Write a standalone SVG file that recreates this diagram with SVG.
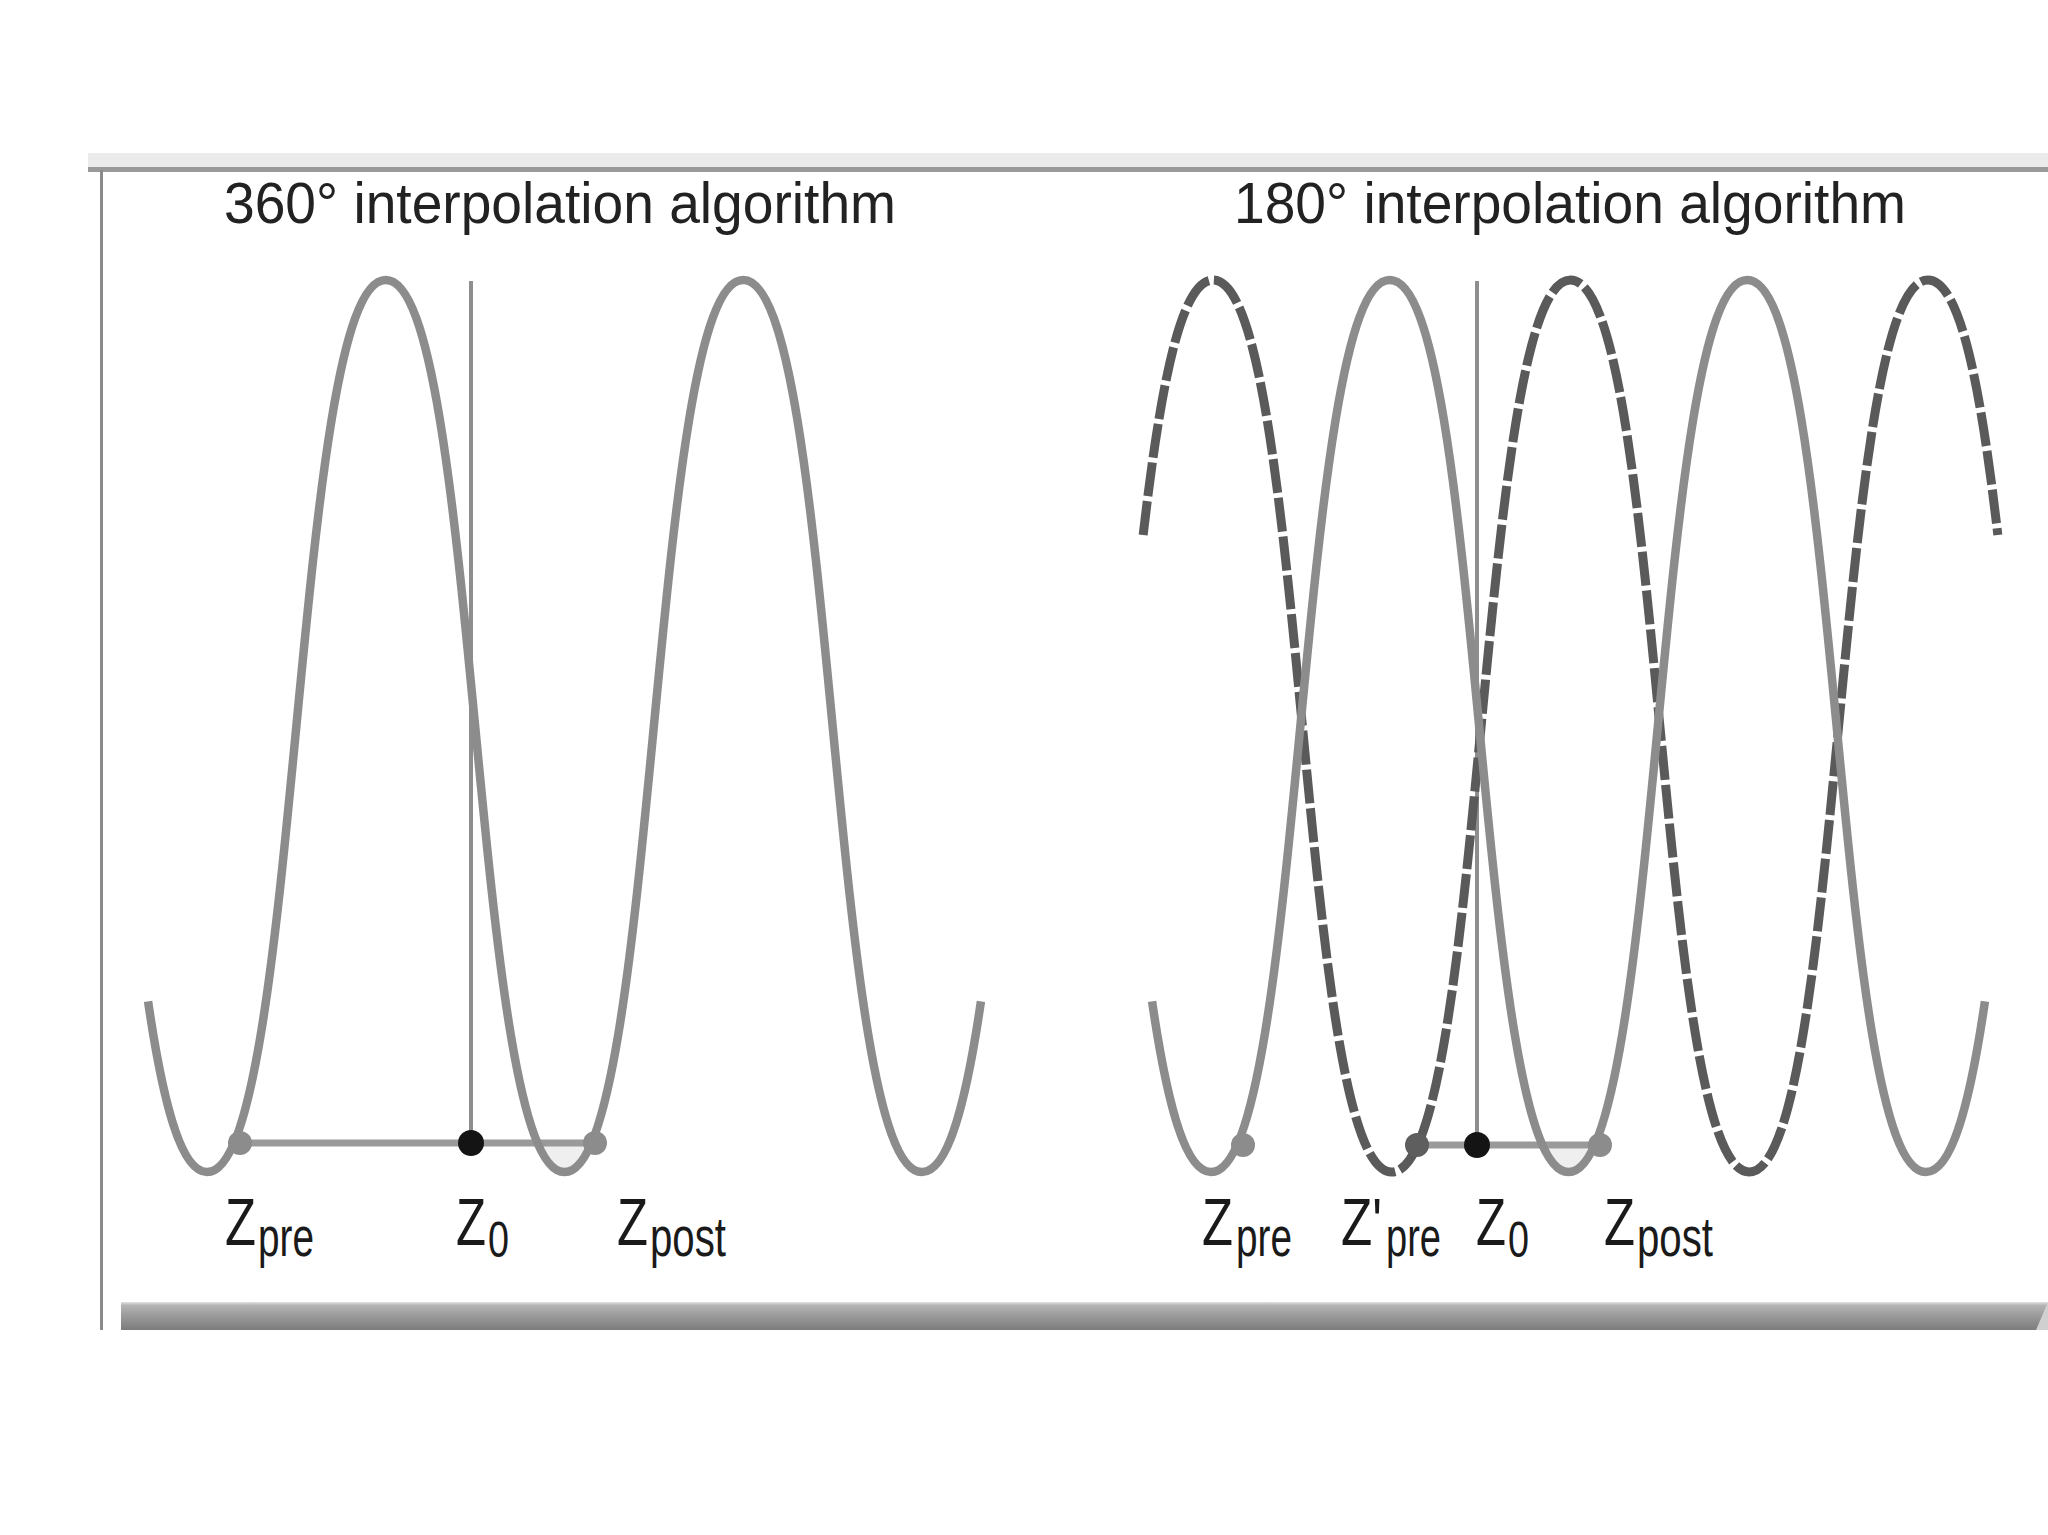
<svg xmlns="http://www.w3.org/2000/svg" width="2048" height="1535" viewBox="0 0 2048 1535">
<defs>
<linearGradient id="barGrad" x1="0" y1="0" x2="0" y2="1">
<stop offset="0" stop-color="#e2e2e2"/>
<stop offset="0.12" stop-color="#b4b4b4"/>
<stop offset="0.5" stop-color="#9a9a9a"/>
<stop offset="1" stop-color="#7c7c7c"/>
</linearGradient>
<style>
.title{font-family:"Liberation Sans",Arial,sans-serif;font-size:57px;fill:#222}
.lbl{font-family:"Liberation Sans",Arial,sans-serif;fill:#1a1a1a}
.zz{font-size:67px}
.sub{font-size:56px}
.sub0{font-size:50px}
.solid{fill:none;stroke:#8c8c8c;stroke-width:8.5}
.dashed{fill:none;stroke:#5a5a5a;stroke-width:9;stroke-dasharray:34 5}
.hline{stroke:#9a9a9a;stroke-width:7}
.vline{stroke:#8e8e8e;stroke-width:4}
.gdot{fill:#8c8c8c}
.ddot{fill:#5e5e5e}
.bdot{fill:#141414}
.fillv{fill:#efefef}
</style>
</defs>
<rect width="2048" height="1535" fill="#ffffff"/>
<g id="frame">
<rect x="88" y="153" width="1960" height="15" fill="#ebebeb"/>
<rect x="88" y="167" width="1960" height="5" fill="#9a9a9a"/>
<rect x="100" y="170" width="3" height="1160" fill="#8a8a8a"/>
<rect x="121" y="1302" width="1927" height="28" fill="url(#barGrad)"/>
<polygon points="2036,1330 2048,1302 2048,1330" fill="#d0d0d0"/>
</g>
<g id="titles">
<text id="title-360" class="title" x="224" y="223" textLength="672" lengthAdjust="spacingAndGlyphs">360° interpolation algorithm</text>
<text id="title-180" class="title" x="1234" y="223" textLength="672" lengthAdjust="spacingAndGlyphs">180° interpolation algorithm</text>
</g>
<g id="fills">
<path class="fillv" d="M536 1143 Q565 1196 593 1143 Z"/>
<path class="fillv" d="M1542 1145 Q1571 1198 1599 1145 Z"/>
</g>
<g id="connectors">
<line class="vline" x1="471" y1="281" x2="471" y2="1143"/>
<line class="hline" x1="240" y1="1143" x2="595" y2="1143"/>
<line class="vline" x1="1477" y1="281" x2="1477" y2="1145"/>
<line class="hline" x1="1417" y1="1145" x2="1600" y2="1145"/>
</g>
<g id="curves">
<path id="curve-360" class="solid" d="M148.07 1001.4 C162.79 1102.07 180.97 1172 207 1172 C299.95 1172 292.8 280 385.75 280 C478.7 280 471.55 1172 564.5 1172 C657.45 1172 650.3 280 743.25 280 C836.2 280 829.05 1172 922 1172 C948.03 1172 966.21 1102.07 980.93 1001.4"/>
<path id="curve-180-dashed" class="dashed" d="M1143.16 535 C1159.84 391.1 1180.18 280 1213 280 C1305.95 280 1298.8 1172 1391.75 1172 C1484.7 1172 1477.55 280 1570.5 280 C1663.45 280 1656.3 1172 1749.25 1172 C1842.2 1172 1835.05 280 1928 280 C1960.82 280 1981.16 391.1 1997.84 535"/>
<path id="curve-180-solid" class="solid" d="M1152.07 1001.4 C1166.79 1102.07 1184.97 1172 1211 1172 C1303.95 1172 1296.8 280 1389.75 280 C1482.7 280 1475.55 1172 1568.5 1172 C1661.45 1172 1654.3 280 1747.25 280 C1840.2 280 1833.05 1172 1926 1172 C1952.03 1172 1970.21 1102.07 1984.93 1001.4"/>
</g>
<g id="node-left-zpre">
<circle class="gdot" cx="240" cy="1143" r="12"/>
<text class="lbl" x="225" y="1245"><tspan class="zz" textLength="31" lengthAdjust="spacingAndGlyphs">Z</tspan><tspan class="sub" x="258" y="1256" textLength="56" lengthAdjust="spacingAndGlyphs">pre</tspan></text>
</g>
<g id="node-left-z0">
<circle class="bdot" cx="471" cy="1143" r="13"/>
<text class="lbl" x="456" y="1245"><tspan class="zz" textLength="30" lengthAdjust="spacingAndGlyphs">Z</tspan><tspan class="sub0" x="488" y="1257" textLength="21" lengthAdjust="spacingAndGlyphs">0</tspan></text>
</g>
<g id="node-left-zpost">
<circle class="gdot" cx="595" cy="1143" r="12"/>
<text class="lbl" x="617" y="1245"><tspan class="zz" textLength="31" lengthAdjust="spacingAndGlyphs">Z</tspan><tspan class="sub" x="650" y="1256" textLength="76" lengthAdjust="spacingAndGlyphs">post</tspan></text>
</g>
<g id="node-right-zpre">
<circle class="gdot" cx="1243" cy="1145" r="12"/>
<text class="lbl" x="1202" y="1245"><tspan class="zz" textLength="31" lengthAdjust="spacingAndGlyphs">Z</tspan><tspan class="sub" x="1236" y="1256" textLength="56" lengthAdjust="spacingAndGlyphs">pre</tspan></text>
</g>
<g id="node-right-zpre-prime">
<circle class="ddot" cx="1417" cy="1145" r="12"/>
<text class="lbl" x="1341" y="1245"><tspan class="zz" textLength="41" lengthAdjust="spacingAndGlyphs">Z'</tspan><tspan class="sub" x="1386" y="1256" textLength="55" lengthAdjust="spacingAndGlyphs">pre</tspan></text>
</g>
<g id="node-right-z0">
<circle class="bdot" cx="1477" cy="1145" r="13"/>
<text class="lbl" x="1476" y="1245"><tspan class="zz" textLength="30" lengthAdjust="spacingAndGlyphs">Z</tspan><tspan class="sub0" x="1508" y="1257" textLength="21" lengthAdjust="spacingAndGlyphs">0</tspan></text>
</g>
<g id="node-right-zpost">
<circle class="gdot" cx="1600" cy="1145" r="12"/>
<text class="lbl" x="1604" y="1245"><tspan class="zz" textLength="31" lengthAdjust="spacingAndGlyphs">Z</tspan><tspan class="sub" x="1637" y="1256" textLength="76" lengthAdjust="spacingAndGlyphs">post</tspan></text>
</g>
</svg>
